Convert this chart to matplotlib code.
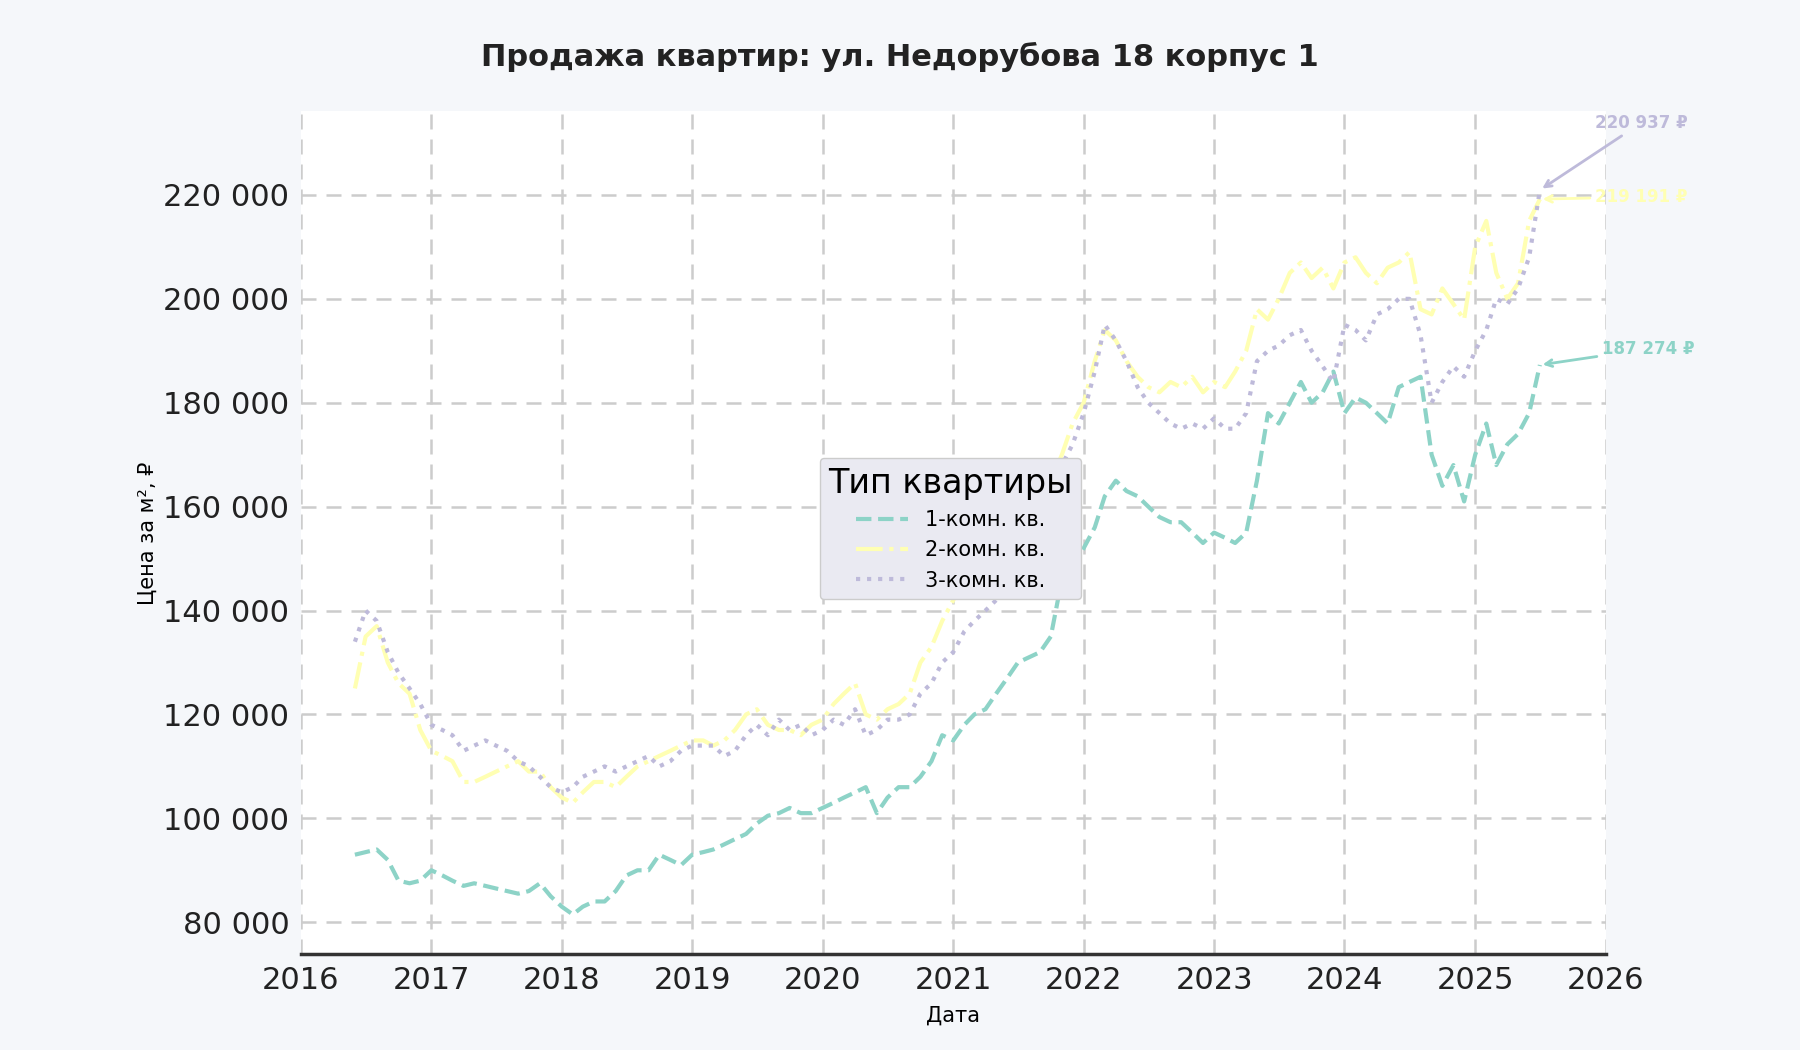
import matplotlib
matplotlib.use("Agg")
import matplotlib.pyplot as plt
import matplotlib.dates as mdates
import pandas as pd
from matplotlib.ticker import FuncFormatter

dates = pd.date_range("2016-06-01", periods=110, freq="MS")
s1 = [93000,93500,94000,92000,88000,87500,88000,90000,89000,88000,87000,87500,87000,86500,86000,85500,86000,87500,85000,
      83000,81500,83000,84000,84000,86000,89000,90000,90000,93000,92000,91000,
      93000,93500,94000,95000,96000,97000,99000,100500,101000,102000,101000,101000,
      102000,103000,104000,105000,106000,101000,104000,106000,106000,108000,111000,116000,
      115000,118000,120000,121000,124000,127000,130000,131000,132000,135000,146000,148000,
      152000,156000,162000,165000,163000,162000,160000,158000,157000,157000,155000,153000,
      155000,154000,153000,155000,165000,178000,176000,180000,184000,180000,182000,186000,
      178000,181000,180000,178000,176000,183000,184000,185000,170000,164000,168000,161000,
      170000,176000,168000,172000,174000,178000,187274]
s2 = [125000,135000,137000,130000,126000,124000,117000,113000,112000,111000,107000,107000,108000,109000,110000,111000,109000,109000,106000,
      104000,103000,105000,107000,107000,106000,108000,110000,111000,112000,113000,114000,
      115000,115000,114000,115000,117000,120000,121000,118000,117000,117000,116000,118000,
      119000,122000,124000,126000,120000,119000,121000,122000,124000,130000,133000,138000,
      142000,146000,148000,150000,152000,150000,148000,150000,153000,165000,170000,176000,
      180000,188000,194000,192000,188000,185000,183000,182000,184000,183000,185000,182000,
      184000,183000,186000,190000,198000,196000,200000,205000,207000,204000,206000,202000,
      207000,208000,205000,203000,206000,207000,209000,198000,197000,202000,199000,196000,
      210000,215000,205000,200000,203000,215000,219191]
s3 = [134000,140000,138000,132000,128000,125000,122000,118000,117000,116000,113000,114000,115000,114000,113000,111000,110000,108000,106000,
      105000,106000,108000,109000,110000,109000,110000,111000,112000,110000,111000,113000,
      114000,114000,114000,112000,113000,116000,118000,116000,119000,117000,118000,116000,
      117000,119000,118000,121000,116000,117000,119000,119000,120000,124000,126000,130000,
      132000,136000,138000,140000,142000,143000,145000,148000,152000,160000,168000,172000,
      178000,186000,195000,192000,188000,183000,180000,178000,176000,175000,176000,175000,
      177000,175000,175000,178000,188000,190000,191000,193000,194000,190000,187000,184000,
      195000,194000,192000,197000,198000,200000,200000,193000,180000,184000,187000,185000,
      190000,194000,200000,199000,202000,208000,220937]
labels = ["1-комн. кв.", "2-комн. кв.", "3-комн. кв."]
colors = ["#8dd3c7", "#ffffb3", "#bebada"]
styles = ["--", "-.", ":"]

fig = plt.figure(figsize=(18, 10.5), dpi=100, facecolor="#f5f7fa")
ax = fig.add_axes([0.167, 0.091, 0.725, 0.803])
ax.set_facecolor("white")
for s, lab, c, ls in zip([s1, s2, s3], labels, colors, styles):
    ax.plot(dates, s, color=c, ls=ls, lw=3, label=lab)

fmt = lambda v: f"{v:,.0f}".replace(",", " ")
ax.annotate(fmt(s3[-1]) + " ₽", xy=(dates[-1], s3[-1]), xytext=(40, 45), textcoords="offset points",
            color=colors[2], fontsize=12, fontweight="bold", arrowprops=dict(arrowstyle="->", color=colors[2], lw=2))
ax.annotate(fmt(s2[-1]) + " ₽", xy=(dates[-1], s2[-1]), xytext=(40, -2), textcoords="offset points",
            color=colors[1], fontsize=12, fontweight="bold", arrowprops=dict(arrowstyle="->", color=colors[1], lw=2))
ax.annotate(fmt(s1[-1]) + " ₽", xy=(dates[-1], s1[-1]), xytext=(45, 8), textcoords="offset points",
            color=colors[0], fontsize=12, fontweight="bold", arrowprops=dict(arrowstyle="->", color=colors[0], lw=2))

ax.set_xlim(pd.Timestamp("2016-01-01"), pd.Timestamp("2026-01-01"))
ax.set_ylim(73800, 236100)
ax.set_yticks(range(80000, 230000, 20000))
ax.yaxis.set_major_formatter(FuncFormatter(lambda v, p: fmt(v)))
ax.xaxis.set_major_locator(mdates.YearLocator())
ax.xaxis.set_major_formatter(mdates.DateFormatter("%Y"))
ax.tick_params(labelsize=22, length=0, pad=8, colors="#222222")
ax.grid(True, ls="--", color="#cccccc", lw=1.8, dashes=(6, 4))
ax.set_axisbelow(True)
for sp in ["top", "right", "left"]:
    ax.spines[sp].set_visible(False)
ax.spines["bottom"].set_color("#333333")
ax.spines["bottom"].set_linewidth(2.5)
ax.set_xlabel("Дата", fontsize=15, labelpad=8)
ax.set_ylabel("Цена за м², ₽", fontsize=15)
fig.suptitle("Продажа квартир: ул. Недорубова 18 корпус 1", fontsize=22, fontweight="bold", y=0.96, color="#222222")
leg = ax.legend(title="Тип квартиры", loc="center", bbox_to_anchor=(0.498, 0.505), fontsize=15,
                title_fontsize=24, facecolor="#eaeaf2", edgecolor="#cccccc", framealpha=1, handlelength=2.5)
fig.savefig("out.png", dpi=100, facecolor=fig.get_facecolor())
